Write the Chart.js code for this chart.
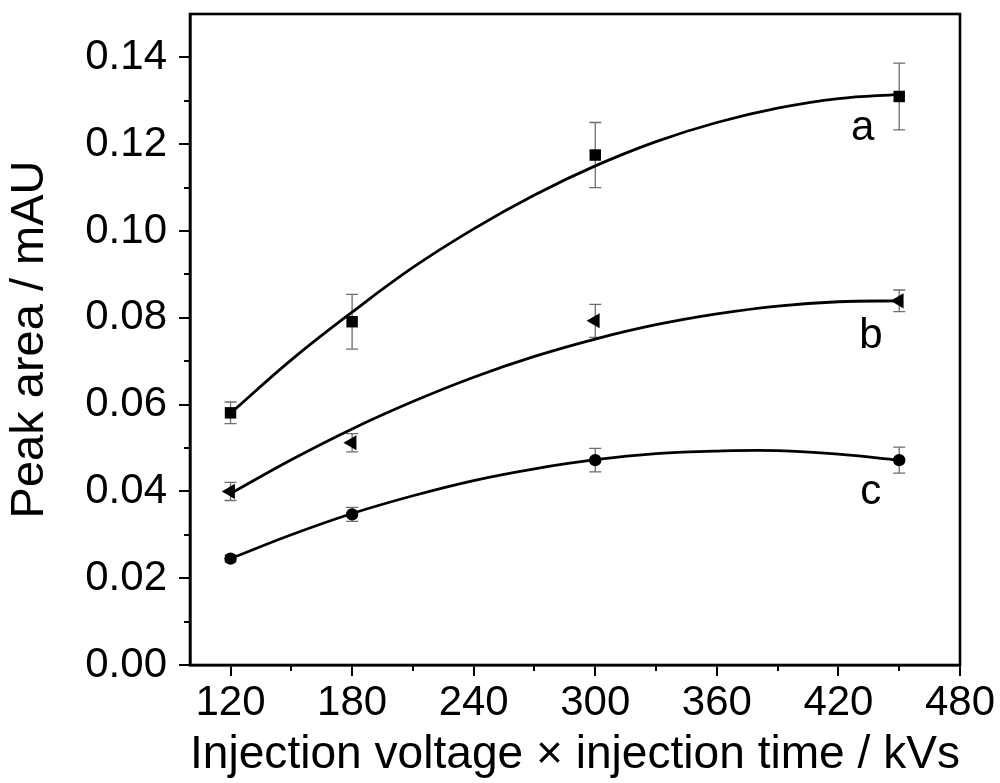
<!DOCTYPE html>
<html>
<head>
<meta charset="utf-8">
<script src="https://cdn.jsdelivr.net/npm/chart.js@4.4.1/dist/chart.umd.min.js"></script>
<style>
  body { margin: 0; background: #fff; }
  canvas { display: block; }
</style>
</head>
<body>
<canvas id="chart" width="1000" height="783"></canvas>
<script>
// measured points
const xValues = [120, 180, 300, 450];
const seriesA = [0.0581, 0.0791, 0.1175, 0.1310];
const seriesB = [0.0400, 0.0512, 0.0793, 0.0839];
const seriesC = [0.0245, 0.0347, 0.0472, 0.0472];
const errA = [0.0025, 0.0063, 0.0075, 0.0077];
const errB = [0.0021, 0.0021, 0.0038, 0.0025];
const errC = [0.0008, 0.0016, 0.0027, 0.0030];

// fitted curves
const fitX = [120, 150, 180, 210, 240, 270, 300, 330, 360, 390, 420, 450];
const fitA = [0.0580, 0.0703, 0.0813, 0.0916, 0.1005, 0.1083, 0.1150, 0.1206, 0.1250, 0.1283, 0.1305, 0.1315];
const fitB = [0.0395, 0.0473, 0.0544, 0.0607, 0.0663, 0.0711, 0.0751, 0.0784, 0.0809, 0.0827, 0.0837, 0.0839];
const fitC = [0.0245, 0.0300, 0.0349, 0.0390, 0.0425, 0.0452, 0.0473, 0.0487, 0.0493, 0.0494, 0.0486, 0.0472];

// axes
const xTicks = [120, 180, 240, 300, 360, 420, 480];
const xMinor = [150, 210, 270, 330, 390, 450];
const yTicks = [0, 0.02, 0.04, 0.06, 0.08, 0.10, 0.12, 0.14];
const yMinor = [0.01, 0.03, 0.05, 0.07, 0.09, 0.11, 0.13];

// curve labels
const curveNames = ["a", "b", "c"];
const curveNameX = [432, 436, 436];
const curveNameY = [0.1210, 0.0730, 0.0372];

const FONT = "'Liberation Sans', Arial, sans-serif";

function points(xs, ys) {
  return xs.map((x, i) => ({ x: x, y: ys[i] }));
}

function fitLine(ys) {
  return {
    type: "line",
    data: points(fitX, ys),
    borderColor: "#000",
    borderWidth: 2.8,
    pointRadius: 0,
    tension: 0.4,
    fill: false,
  };
}

function markers(ys, errs, style, radius, rotation) {
  return {
    type: "scatter",
    data: points(xValues, ys),
    errors: errs,
    pointStyle: style,
    pointRadius: radius,
    pointRotation: rotation,
    backgroundColor: "#000",
    borderColor: "#000",
    borderWidth: 0,
    showLine: false,
  };
}

// error bars, drawn under the markers
const errorBars = {
  id: "errorBars",
  beforeDatasetsDraw(chart) {
    const ctx = chart.ctx;
    const xs = chart.scales.x;
    const ys = chart.scales.y;
    ctx.save();
    ctx.strokeStyle = "#6e6e6e";
    ctx.lineWidth = 1.3;
    chart.data.datasets.forEach((ds) => {
      if (!ds.errors) return;
      ds.data.forEach((p, i) => {
        const px = xs.getPixelForValue(p.x);
        const top = ys.getPixelForValue(p.y + ds.errors[i]);
        const bot = ys.getPixelForValue(p.y - ds.errors[i]);
        ctx.beginPath();
        ctx.moveTo(px, top);
        ctx.lineTo(px, bot);
        ctx.moveTo(px - 6, top);
        ctx.lineTo(px + 6, top);
        ctx.moveTo(px - 6, bot);
        ctx.lineTo(px + 6, bot);
        ctx.stroke();
      });
    });
    ctx.restore();
  },
};

// frame, minor ticks and a/b/c labels
const decorations = {
  id: "decorations",
  afterDraw(chart) {
    const ctx = chart.ctx;
    const area = chart.chartArea;
    const xs = chart.scales.x;
    const ys = chart.scales.y;
    ctx.save();
    ctx.strokeStyle = "#000";
    ctx.lineWidth = 2.6;
    ctx.strokeRect(area.left, area.top, area.right - area.left, area.bottom - area.top);

    ctx.lineWidth = 2;
    ctx.beginPath();
    xMinor.forEach((v) => {
      const px = Math.round(xs.getPixelForValue(v));
      ctx.moveTo(px, area.bottom);
      ctx.lineTo(px, area.bottom + 6);
    });
    yMinor.forEach((v) => {
      const py = Math.round(ys.getPixelForValue(v));
      ctx.moveTo(area.left, py);
      ctx.lineTo(area.left - 6, py);
    });
    ctx.stroke();

    ctx.fillStyle = "#000";
    ctx.font = "42px " + FONT;
    ctx.textAlign = "center";
    ctx.textBaseline = "alphabetic";
    curveNames.forEach((name, i) => {
      ctx.fillText(name, xs.getPixelForValue(curveNameX[i]), ys.getPixelForValue(curveNameY[i]));
    });
    ctx.restore();
  },
};

new Chart(document.getElementById("chart"), {
  data: {
    datasets: [
      fitLine(fitA),
      fitLine(fitB),
      fitLine(fitC),
      markers(seriesA, errA, "rect", 8.1, 0),
      markers(seriesB, errB, "triangle", 8.7, -90),
      markers(seriesC, errC, "circle", 6.2, 0),
    ],
  },
  options: {
    responsive: false,
    animation: false,
    layout: { padding: { top: 14, right: 40, left: 0, bottom: 0 } },
    plugins: {
      legend: { display: false },
      tooltip: { enabled: false },
    },
    scales: {
      x: {
        type: "linear",
        min: 100,
        max: 480,
        afterBuildTicks: (scale) => {
          scale.ticks = xTicks.map((v) => ({ value: v }));
        },
        afterFit: (scale) => {
          scale.height = 118;
          scale.paddingLeft = 0;
          scale.paddingRight = 0;
        },
        grid: {
          drawOnChartArea: false,
          drawTicks: true,
          tickLength: 11,
          color: "#000",
          lineWidth: 2,
        },
        border: { display: true, color: "#000", width: 2.6 },
        ticks: {
          color: "#000",
          padding: 2,
          maxRotation: 0,
          font: { family: FONT, size: 42 },
        },
        title: {
          display: true,
          text: "Injection voltage × injection time / kVs",
          color: "#000",
          padding: { top: 0, bottom: 0 },
          font: { family: FONT, size: 47 },
        },
      },
      y: {
        type: "linear",
        min: 0,
        max: 0.15,
        afterBuildTicks: (scale) => {
          scale.ticks = yTicks.map((v) => ({ value: v }));
        },
        afterFit: (scale) => {
          scale.width = 190;
          scale.paddingTop = 0;
          scale.paddingBottom = 0;
        },
        grid: {
          drawOnChartArea: false,
          drawTicks: true,
          tickLength: 11,
          color: "#000",
          lineWidth: 2,
        },
        border: { display: true, color: "#000", width: 2.6 },
        ticks: {
          color: "#000",
          padding: 12,
          font: { family: FONT, size: 42 },
          callback: (v) => v.toFixed(2),
        },
        title: {
          display: true,
          text: "Peak area / mAU",
          color: "#000",
          padding: { top: 2, bottom: 0 },
          font: { family: FONT, size: 47 },
        },
      },
    },
  },
  plugins: [errorBars, decorations],
});
</script>
</body>
</html>
